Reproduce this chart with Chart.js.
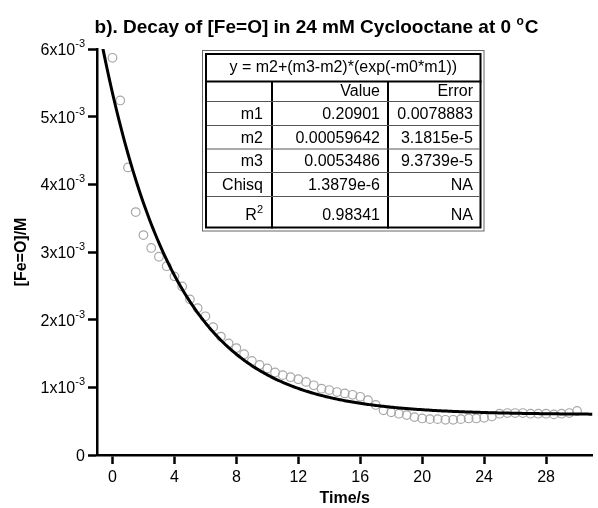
<!DOCTYPE html>
<html>
<head>
<meta charset="utf-8">
<script src="https://cdn.jsdelivr.net/npm/chart.js@4.4.0/dist/chart.umd.min.js"></script>
<style>
  html, body { margin: 0; padding: 0; background: #fff; }
  #wrap { position: relative; width: 598px; height: 508px; }
</style>
</head>
<body>
<div id="wrap"><canvas id="decayChart" width="598" height="508"></canvas></div>
<script>
const FONT = '"Liberation Sans", Arial, Helvetica, sans-serif';

// --- Data ---
const titleText = 'b). Decay of [Fe=O] in 24 mM Cyclooctane at 0 ';
const titleDegree = 'o';
const titleUnit = 'C';
const xTitle = 'Time/s';
const yTitle = '[Fe=O]/M';

// measured [Fe=O] (M) against time (s)
const times = [
  0, 0.5, 1, 1.5, 2, 2.5, 3, 3.5, 4, 4.5,
  5, 5.5, 6, 6.5, 7, 7.5, 8, 8.5, 9, 9.5,
  10, 10.5, 11, 11.5, 12, 12.5, 13, 13.5, 14, 14.5,
  15, 15.5, 16, 16.5, 17, 17.5, 18, 18.5, 19, 19.5,
  20, 20.5, 21, 21.5, 22, 22.5, 23, 23.5, 24, 24.5,
  25, 25.5, 26, 26.5, 27, 27.5, 28, 28.5, 29, 29.5,
  30
];
const feoConc = [
  0.00587, 0.00524, 0.00425, 0.00359, 0.00325, 0.00306, 0.00293, 0.00279, 0.00264, 0.00249,
  0.00230, 0.00217, 0.00205, 0.00189, 0.00175, 0.00165, 0.00158, 0.00149, 0.00139, 0.00133,
  0.00128, 0.00122, 0.00118, 0.00115, 0.00112, 0.00108, 0.00103, 0.00098, 0.00096, 0.00093,
  0.00091, 0.00089, 0.00086, 0.00081, 0.00074, 0.00066, 0.00063, 0.00061, 0.00059, 0.00056,
  0.00054, 0.00053, 0.00053, 0.00052, 0.00052, 0.00053, 0.00054, 0.00054, 0.00055, 0.00057,
  0.00061, 0.00062, 0.00062, 0.00062, 0.00061, 0.00061, 0.00061, 0.00060, 0.00061, 0.00062,
  0.00065
];

// fit results table
const fitEquation = 'y = m2+(m3-m2)*(exp(-m0*m1))';
const fitHeader = ['', 'Value', 'Error'];
const fitNames = ['m1', 'm2', 'm3', 'Chisq', 'R'];
const fitValues = ['0.20901', '0.00059642', '0.0053486', '1.3879e-6', '0.98341'];
const fitErrors = ['0.0078883', '3.1815e-5', '9.3739e-5', 'NA', 'NA'];

// axis ticks
const xTicks = [0, 4, 8, 12, 16, 20, 24, 28];
const yTicks = [0, 0.001, 0.002, 0.003, 0.004, 0.005, 0.006];
const yTickMantissa = ['0', '1', '2', '3', '4', '5', '6'];
const yTickExponent = '-3';

// fitted curve y = m2 + (m3 - m2) * exp(-m1 * t), sampled over the x range
const m1 = parseFloat(fitValues[0]);
const m2 = parseFloat(fitValues[1]);
const m3 = parseFloat(fitValues[2]);
const fitCurve = [];
for (let t = -1; t <= 31.001; t += 0.1) {
  fitCurve.push({ x: t, y: m2 + (m3 - m2) * Math.exp(-m1 * t) });
}

const points = times.map((t, i) => ({ x: t, y: feoConc[i] }));

// --- Text drawing helpers ---
function drawSupText(ctx, base, sup, xRight, baseline, baseFont, supFont, rise) {
  ctx.font = supFont;
  const supW = ctx.measureText(sup).width;
  ctx.textAlign = 'right';
  ctx.textBaseline = 'alphabetic';
  ctx.fillText(sup, xRight, baseline - rise);
  ctx.font = baseFont;
  ctx.fillText(base, xRight - supW, baseline);
}

const overlayPlugin = {
  id: 'overlay',
  afterDraw(chart) {
    const ctx = chart.ctx;
    const yScale = chart.scales.y;
    ctx.save();
    ctx.fillStyle = '#000';

    // title with raised degree mark
    const bold = 'bold 19px ' + FONT;
    const boldSup = 'bold 12px ' + FONT;
    ctx.font = bold;
    const w1 = ctx.measureText(titleText).width;
    const w3 = ctx.measureText(titleUnit).width;
    ctx.font = boldSup;
    const w2 = ctx.measureText(titleDegree).width;
    let tx = 316 - (w1 + w2 + w3) / 2;
    ctx.textAlign = 'left';
    ctx.textBaseline = 'alphabetic';
    ctx.font = bold;
    ctx.fillText(titleText, tx, 33);
    ctx.font = boldSup;
    ctx.fillText(titleDegree, tx + w1, 25);
    ctx.font = bold;
    ctx.fillText(titleUnit, tx + w1 + w2 + 1, 33);

    // y tick labels in a x10^n form
    yTicks.forEach((v, i) => {
      const py = yScale.getPixelForValue(v);
      if (v === 0) {
        ctx.font = '16px ' + FONT;
        ctx.textAlign = 'right';
        ctx.textBaseline = 'alphabetic';
        ctx.fillText(yTickMantissa[i], 85, py + 6);
      } else {
        drawSupText(ctx, yTickMantissa[i] + 'x10', yTickExponent, 85, py + 6,
          '16px ' + FONT, '11px ' + FONT, 8);
      }
    });

    // fit results box
    const L = 202, T = 50, R = 484.5, B = 231.5;
    ctx.fillStyle = '#fff';
    ctx.fillRect(L, T, R - L, B - T);
    ctx.strokeStyle = '#666';
    ctx.lineWidth = 1;
    ctx.strokeRect(L + 0.5, T + 0.5, R - L - 1, B - T - 1);
    const iL = 205, iT = 53, iR = 481.5, iB = 228.5;
    ctx.strokeStyle = '#000';
    ctx.lineWidth = 2;
    ctx.strokeRect(iL + 1, iT + 1, iR - iL - 2, iB - iT - 2);

    const headerBottom = 81.5;
    const rowLines = [101.5, 125.5, 149, 172.5, 196.5];
    const colLines = [272, 388];
    ctx.beginPath();
    ctx.moveTo(iL, headerBottom);
    ctx.lineTo(iR, headerBottom);
    ctx.stroke();
    colLines.forEach(cx => {
      ctx.beginPath();
      ctx.moveTo(cx, headerBottom);
      ctx.lineTo(cx, iB);
      ctx.stroke();
    });
    ctx.strokeStyle = '#555';
    ctx.lineWidth = 1;
    rowLines.forEach(ry => {
      ctx.beginPath();
      ctx.moveTo(iL + 2, ry);
      ctx.lineTo(iR - 2, ry);
      ctx.stroke();
    });

    ctx.fillStyle = '#000';
    const cellFont = '16px ' + FONT;
    ctx.font = cellFont;
    ctx.textBaseline = 'alphabetic';
    ctx.textAlign = 'center';
    ctx.fillText(fitEquation, (iL + iR) / 2, 72);

    const colRight = [263, 380, 473];
    const baselines = [95.5, 119, 142.5, 166, 189.5, 220];
    ctx.textAlign = 'right';
    fitHeader.forEach((h, c) => ctx.fillText(h, colRight[c], baselines[0]));
    fitNames.forEach((name, r) => {
      const by = baselines[r + 1];
      ctx.font = cellFont;
      ctx.textAlign = 'right';
      if (name === 'R') {
        drawSupText(ctx, name, '2', colRight[0], by, cellFont, '11px ' + FONT, 7);
      } else {
        ctx.fillText(name, colRight[0], by);
      }
      ctx.font = cellFont;
      ctx.textAlign = 'right';
      ctx.fillText(fitValues[r], colRight[1], by);
      ctx.fillText(fitErrors[r], colRight[2], by);
    });

    ctx.restore();
  }
};

const ctx = document.getElementById('decayChart').getContext('2d');
new Chart(ctx, {
  type: 'scatter',
  data: {
    datasets: [
      {
        type: 'line',
        label: 'fit',
        data: fitCurve,
        borderColor: '#000',
        borderWidth: 3,
        pointRadius: 0,
        tension: 0,
        fill: false
      },
      {
        label: '[Fe=O]',
        data: points,
        showLine: false,
        pointRadius: 4.3,
        pointBorderWidth: 1.2,
        pointBorderColor: '#a8a8a8',
        pointBackgroundColor: 'rgba(0,0,0,0)'
      }
    ]
  },
  options: {
    responsive: false,
    animation: false,
    events: [],
    layout: { padding: { top: 49, left: 0, right: 0, bottom: 0 } },
    plugins: {
      legend: { display: false },
      title: { display: false },
      tooltip: { enabled: false }
    },
    scales: {
      x: {
        type: 'linear',
        min: -1,
        max: 31,
        afterBuildTicks: scale => { scale.ticks = xTicks.map(v => ({ value: v })); },
        afterFit: scale => { scale.height = 53; },
        border: { display: true, color: '#000', width: 2.5 },
        grid: { display: true, drawOnChartArea: false, drawTicks: true, tickLength: 9, tickWidth: 2.5, tickColor: '#000' },
        ticks: {
          color: '#000',
          padding: 4,
          font: { family: FONT, size: 16 },
          callback: v => String(v)
        },
        title: {
          display: true,
          text: xTitle,
          color: '#000',
          padding: { top: 0, bottom: 0 },
          font: { family: FONT, size: 16, weight: 'bold' }
        }
      },
      y: {
        type: 'linear',
        min: 0,
        max: 0.006,
        afterBuildTicks: scale => { scale.ticks = yTicks.map(v => ({ value: v })); },
        afterFit: scale => { scale.width = 97; },
        border: { display: true, color: '#000', width: 2.5 },
        grid: { display: true, drawOnChartArea: false, drawTicks: true, tickLength: 9, tickWidth: 2.5, tickColor: '#000' },
        ticks: { display: false },
        title: {
          display: true,
          text: yTitle,
          color: '#000',
          padding: { top: 12, bottom: 0 },
          font: { family: FONT, size: 16, weight: 'bold' }
        }
      }
    }
  },
  plugins: [overlayPlugin]
});
</script>
</body>
</html>
